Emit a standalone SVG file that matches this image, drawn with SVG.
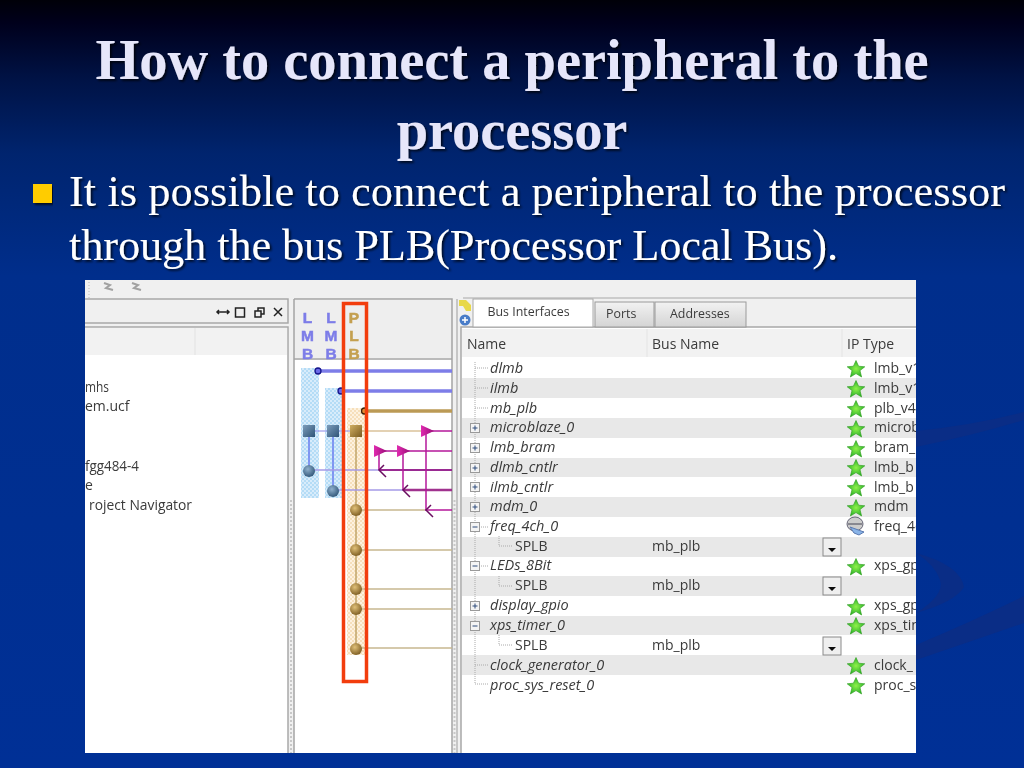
<svg xmlns="http://www.w3.org/2000/svg" width="1024" height="768" viewBox="0 0 1024 768">
<defs>
<clipPath id="shot"><rect x="85" y="280" width="831" height="473"/></clipPath>
<linearGradient id="bg" x1="0" y1="0" x2="0" y2="1"><stop offset="0" stop-color="#000008"/><stop offset=".03" stop-color="#00001c"/><stop offset=".1" stop-color="#001244"/><stop offset=".2" stop-color="#00246e"/><stop offset=".36" stop-color="#002e8c"/><stop offset="1" stop-color="#003096"/></linearGradient>
<radialGradient id="blue" cx=".4" cy=".35" r=".7"><stop offset="0" stop-color="#8fb0cc"/><stop offset="1" stop-color="#2f5578"/></radialGradient>
<radialGradient id="gold" cx=".4" cy=".35" r=".7"><stop offset="0" stop-color="#e0c078"/><stop offset="1" stop-color="#7a5a20"/></radialGradient>
<radialGradient id="green"><stop offset="0" stop-color="#8ff04a"/><stop offset="1" stop-color="#2eb52a"/></radialGradient>
<linearGradient id="sqb" x1="0" y1="0" x2="1" y2="1"><stop offset="0" stop-color="#7c9cba"/><stop offset="1" stop-color="#2f5578"/></linearGradient>
<linearGradient id="sqg" x1="0" y1="0" x2="1" y2="1"><stop offset="0" stop-color="#d0ae62"/><stop offset="1" stop-color="#7a5a20"/></linearGradient>
<linearGradient id="tab" x1="0" y1="0" x2="0" y2="1"><stop offset="0" stop-color="#f2f2f2"/><stop offset="1" stop-color="#d4d4d4"/></linearGradient>
<linearGradient id="trif" x1="0" y1="0" x2="1" y2="0"><stop offset="0" stop-color="#e02ab0"/><stop offset="1" stop-color="#9a1078"/></linearGradient>
<pattern id="hb" width="4" height="4" patternUnits="userSpaceOnUse"><rect width="4" height="4" fill="#d8ecfb"/><rect width="2" height="2" fill="#b4dcf6"/><rect x="2" y="2" width="2" height="2" fill="#b4dcf6"/></pattern>
<pattern id="hg" width="4" height="4" patternUnits="userSpaceOnUse"><rect width="4" height="4" fill="#fdf2e0"/><rect width="2" height="2" fill="#f6dfbb"/><rect x="2" y="2" width="2" height="2" fill="#f6dfbb"/></pattern>
<filter id="sh" x="-5%" y="-20%" width="110%" height="140%"><feDropShadow dx="1.800" dy="1.800" stdDeviation=".8" flood-color="#000" flood-opacity=".75"/></filter>
<filter id="soft"><feGaussianBlur stdDeviation=".3"/></filter>
<g id="star"><path d="M0-8.500 2.600-2.800 8.800-2.200 4 1.600 5.600 8 0 4.600-5.600 8-4 1.600-8.800-2.200-2.600-2.800Z" fill="url(#green)" stroke="#2b9a1a" stroke-width=".6"/></g>
<g id="plus"><rect x="-4.500" y="-4.500" width="9" height="9" fill="#f4f4f4" stroke="#9a9a9a"/><path d="M-2.500 0H2.500M0-2.500V2.500" stroke="#2c4a7a"/></g>
<g id="minus"><rect x="-4.500" y="-4.500" width="9" height="9" fill="#f4f4f4" stroke="#9a9a9a"/><path d="M-2.500 0H2.500" stroke="#2c4a7a"/></g>
<g id="drop"><rect x="-9" y="-9" width="18" height="18" fill="#efefef" stroke="#8a8a8a"/><path d="M-4 1H4L0 5Z" fill="#111"/></g>
<g id="tri"><path d="M-6-6 7 0-6 6Z" fill="url(#trif)"/></g>
</defs>
<style>
.h{font-family:"Liberation Serif",serif;font-weight:bold;font-size:56.400px;fill:#e6e6fa;text-anchor:middle;filter:url(#sh)}
.s{font-family:"Liberation Serif",serif;font-size:44.400px;fill:#fff;filter:url(#sh)}
.t{font-family:"Open Sans","Noto Sans",sans-serif;font-size:14px;fill:#3a3a3a}
.i{font-style:italic;font-size:14.500px}
.tb{font-size:12.400px}
.b{font-family:"Liberation Sans",sans-serif;font-weight:bold;font-size:15.500px;text-anchor:middle;stroke-width:.5px}
.w{fill:none;stroke-linecap:butt}
</style>
<rect id="background" width="1024" height="768" fill="url(#bg)"/>
<g id="swooshes" fill="#0a2d86">
<path d="M916 431Q975 425 1024 412V420Q975 435 916 447Z"/>
<path d="M916 553Q960 565 964 587Q955 602 916 613Q945 595 940 580Q935 565 916 553Z"/>
<path d="M916 645Q975 620 1024 596V623Q975 640 916 660Z"/>
</g>
<g id="title"><text class="h" x="512" y="79">How to connect a peripheral to the</text><text class="h" x="512" y="149">processor</text></g>
<g id="bullet"><rect x="33" y="184" width="19" height="19" fill="#ffcc00" filter="url(#sh)"/><text class="s" x="69" y="206" textLength="936">It is possible to connect a peripheral to the processor</text><text class="s" x="69" y="260" textLength="769">through the bus PLB(Processor Local Bus).</text></g>
<g id="screenshot-clip" clip-path="url(#shot)">
<g id="screenshot" filter="url(#soft)">
<rect x="85" y="280" width="831" height="473" fill="#f0f0f0"/>
<path d="M89 282V298" stroke="#bbb" stroke-dasharray="1 2"/>
<g fill="none" stroke="#a2a2a2" stroke-width="2"><path d="M104 283 110 285 106 288 113 290"/><path d="M132 283 138 285 134 288 141 290"/></g>
<g id="left-panel">
<rect x="75" y="299" width="213" height="24" fill="#f0f0f0" stroke="#a8a8a8" stroke-width="1.500"/>
<rect x="75" y="327" width="213" height="440" fill="#fff" stroke="#a8a8a8" stroke-width="1.500"/>
<rect x="85" y="328" width="202" height="27" fill="#f2f2f2"/><path d="M195 328V355" stroke="#e2e2e2"/>
<path d="M291 500V753" stroke="#c8c8c8" stroke-width="2" stroke-dasharray="2 2"/>
<g stroke="#222" fill="none" stroke-width="1.500"><path d="M217 312H229M219 310l-2 2 2 2M227 310l2 2-2 2"/><rect x="235.500" y="308" width="9" height="9"/><rect x="255" y="311" width="6" height="6"/><path d="M258 311V308H264V314H261"/><path d="M274 308l8 8M282 308l-8 8"/></g>
<text class="t" x="85" y="392" textLength="24" lengthAdjust="spacingAndGlyphs">mhs</text><text class="t" x="85" y="411">em.ucf</text><text class="t" x="85" y="471" textLength="54" lengthAdjust="spacingAndGlyphs">fgg484-4</text><text class="t" x="85" y="490">e</text><text class="t" x="89" y="510" textLength="103" lengthAdjust="spacingAndGlyphs">roject Navigator</text>
</g>
<g id="bus-panel">
<rect x="294" y="299" width="158" height="470" fill="#fff"/>
<rect x="294" y="300" width="158" height="58" fill="#eeeeee"/>
<path d="M294 299V769M294 299H452V769M294 359H452" fill="none" stroke="#a4a4a4" stroke-width="1.500"/>
<rect x="301" y="368" width="18" height="130" fill="url(#hb)"/><rect x="325" y="388" width="18" height="110" fill="url(#hb)"/><rect x="347" y="408" width="20" height="247" fill="url(#hg)"/>
<g id="bus-labels"><text class="b" fill="#7d7de8" stroke="#7d7de8"><tspan x="307.500" y="322.500">L</tspan><tspan x="307.500" y="340.500">M</tspan><tspan x="307.500" y="358.500">B</tspan></text><text class="b" fill="#7d7de8" stroke="#7d7de8"><tspan x="331" y="322.500">L</tspan><tspan x="331" y="340.500">M</tspan><tspan x="331" y="358.500">B</tspan></text><text class="b" fill="#c4a050" stroke="#c4a050"><tspan x="354" y="322.500">P</tspan><tspan x="354" y="340.500">L</tspan><tspan x="354" y="358.500">B</tspan></text></g>
<g id="connectors" class="w">
<path d="M318 371H452M341 391H452" stroke="#7d7de8" stroke-width="3.500"/>
<path d="M365 411H452" stroke="#bb9a55" stroke-width="3.500"/>
<path d="M309 431H356" stroke="#8a8ae8" stroke-width="1.200"/>
<path d="M356 431H421" stroke="#c8a468" stroke-width="1.200"/>
<path d="M309 431V471M333 431V491" stroke="#6a7ef0" stroke-width="1.500"/>
<path d="M356 431V649" stroke="#bfa468" stroke-width="1.500"/>
<path d="M309 470H380M333 490H404" stroke="#a59ae8" stroke-width="1.500"/>
<path d="M380 470H452" stroke="#9a2a92" stroke-width="2"/><path d="M404 490H452" stroke="#a0308e" stroke-width="2.500"/>
<path d="M356 510H425M356 550H452M356 589H452M356 609H452M356 648H452" stroke="#c8b890" stroke-width="1.500"/>
<path d="M425 510H452M421 431H452M380 451H452" stroke="#b5189a" stroke-width="1.500"/>
<path d="M426 431V510M379 451V470M403 451V490" stroke="#b5189a" stroke-width="1.500"/>
<path d="M384 465 379 470 386 477M408 485 403 490 410 497M431 505 426 510 433 517" stroke="#6a1060" stroke-width="1.500"/>
</g>
<g id="bus-marks">
<use href="#tri" x="380" y="451"/><use href="#tri" x="403" y="451"/><use href="#tri" x="427" y="431"/>
<circle cx="318" cy="371" r="3" fill="#6a6ae8" stroke="#14148a" stroke-width="1.300"/><circle cx="341" cy="391" r="3" fill="#6a6ae8" stroke="#14148a" stroke-width="1.300"/><circle cx="364.500" cy="411" r="3" fill="#e08a30" stroke="#3a2408" stroke-width="1.300"/>
<rect x="303" y="425" width="12" height="12" fill="url(#sqb)"/><rect x="327" y="425" width="12" height="12" fill="url(#sqb)"/><rect x="350" y="425" width="12" height="12" fill="url(#sqg)"/>
<circle cx="309" cy="471" r="6" fill="url(#blue)"/><circle cx="333" cy="491" r="6" fill="url(#blue)"/>
<circle cx="356" cy="510" r="6" fill="url(#gold)"/><circle cx="356" cy="550" r="6" fill="url(#gold)"/><circle cx="356" cy="589" r="6" fill="url(#gold)"/><circle cx="356" cy="609" r="6" fill="url(#gold)"/><circle cx="356" cy="649" r="6" fill="url(#gold)"/>
</g>
<rect id="highlight" x="343.500" y="303.500" width="23" height="378" fill="none" stroke="#f23c10" stroke-width="3.500"/>
</g>
<g id="table-panel">
<rect x="461" y="327" width="455" height="426" fill="#fff"/>
<path d="M454.500 500V753" stroke="#c8c8c8" stroke-width="2" stroke-dasharray="2 2"/>
<path d="M461 769V327H916" fill="none" stroke="#a8a8a8" stroke-width="1.500"/><path d="M457 299V753" stroke="#b8b8b8" stroke-width="1.500"/>
<rect x="462" y="329" width="454" height="28" fill="#f2f2f2"/><path d="M647 329V357M842 329V357" stroke="#e4e4e4"/>
<path d="M463 298H916" stroke="#a8a8a8"/>
<g id="tabs"><rect x="595" y="302" width="59" height="25" fill="url(#tab)" stroke="#9a9a9a"/><rect x="655" y="302" width="91" height="25" fill="url(#tab)" stroke="#9a9a9a"/><rect x="473" y="299" width="120" height="28" fill="#fff" stroke="#a8a8a8"/><text class="t tb" x="487.500" y="316">Bus Interfaces</text><text class="t tb" x="606" y="318">Ports</text><text class="t tb" x="670" y="318">Addresses</text></g>
<circle cx="465" cy="320" r="5.500" fill="#4a7cc8"/><path d="M462 320H468M465 317V323" stroke="#fff" stroke-width="1.500"/><path d="M459 300H466L471 305V311H466L463 306H459Z" fill="#e8d84a"/>
<text class="t" x="467" y="349">Name</text><text class="t" x="652" y="349">Bus Name</text><text class="t" x="847" y="349">IP Type</text>
<g fill="#e8e8e8"><rect x="462" y="378" width="454" height="20"/><rect x="462" y="418" width="454" height="20"/><rect x="462" y="458" width="454" height="19"/><rect x="462" y="497" width="454" height="20"/><rect x="462" y="537" width="454" height="20"/><rect x="462" y="576" width="454" height="20"/><rect x="462" y="616" width="454" height="19"/><rect x="462" y="655" width="454" height="20"/></g>
<path d="M475 362V684H488M475 368H488M475 388H488M475 408H488M475 527H488M475 566H488M475 665H488M499 536V546H513M499 576V586H513M499 635V645H513" fill="none" stroke="#aaa" stroke-dasharray="1 1"/>
<g id="rows">
<g class="t i"><text x="490" y="373">dlmb</text><text x="490" y="393">ilmb</text><text x="490" y="413">mb_plb</text><text x="490" y="432">microblaze_0</text><text x="490" y="452">lmb_bram</text><text x="490" y="472">dlmb_cntlr</text><text x="490" y="492">ilmb_cntlr</text><text x="490" y="511">mdm_0</text><text x="490" y="531">freq_4ch_0</text><text x="490" y="570">LEDs_8Bit</text><text x="490" y="610">display_gpio</text><text x="490" y="630">xps_timer_0</text><text x="490" y="670">clock_generator_0</text><text x="490" y="690">proc_sys_reset_0</text></g>
<g class="t"><text x="515" y="551">SPLB</text><text x="515" y="590">SPLB</text><text x="515" y="650">SPLB</text><text x="652" y="551">mb_plb</text><text x="652" y="590">mb_plb</text><text x="652" y="650">mb_plb</text>
<text x="874" y="373">lmb_v1</text><text x="874" y="393">lmb_v1</text><text x="874" y="413">plb_v4</text><text x="874" y="432">microb</text><text x="874" y="452">bram_</text><text x="874" y="472">lmb_b</text><text x="874" y="492">lmb_b</text><text x="874" y="511">mdm</text><text x="874" y="531">freq_4c</text><text x="874" y="570">xps_gp</text><text x="874" y="610">xps_gp</text><text x="874" y="630">xps_tin</text><text x="874" y="670">clock_</text><text x="874" y="690">proc_s</text></g>
<use href="#plus" x="475" y="428"/><use href="#plus" x="475" y="448"/><use href="#plus" x="475" y="468"/><use href="#plus" x="475" y="487"/><use href="#plus" x="475" y="507"/><use href="#minus" x="475" y="527"/><use href="#minus" x="475" y="566"/><use href="#plus" x="475" y="606"/><use href="#minus" x="475" y="626"/>
<use href="#star" x="856" y="369"/><use href="#star" x="856" y="389"/><use href="#star" x="856" y="409"/><use href="#star" x="856" y="429"/><use href="#star" x="856" y="449"/><use href="#star" x="856" y="468"/><use href="#star" x="856" y="488"/><use href="#star" x="856" y="508"/><use href="#star" x="856" y="567"/><use href="#star" x="856" y="607"/><use href="#star" x="856" y="626"/><use href="#star" x="856" y="666"/><use href="#star" x="856" y="686"/>
<g transform="translate(856 526)"><ellipse cx="-1" cy="-2" rx="8" ry="7" fill="#ccc" stroke="#667"/><path d="M-8-2H6" stroke="#445"/><path d="M-6 1 8 6 3 9-2 7Z" fill="#8ab4e8" stroke="#5a7ab0"/></g>
<use href="#drop" x="832" y="547"/><use href="#drop" x="832" y="586"/><use href="#drop" x="832" y="646"/>
</g>
</g>
</g>
</g>
</svg>
